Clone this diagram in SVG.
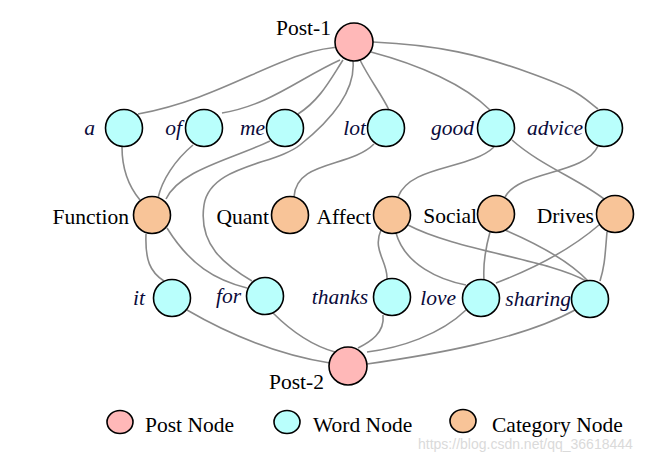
<svg xmlns="http://www.w3.org/2000/svg" width="666" height="454" viewBox="0 0 666 454">
<style>
.e{fill:none;stroke:#8a8a8a;stroke-width:1.6}
.n{stroke:#000;stroke-width:1.6}
.post{fill:#ffb8b8}
.word{fill:#b9fffc}
.cat{fill:#f8c498}
.lb{font-size:21.5px;fill:#000}
.it{font-style:italic;fill:#0a0a3a}
.wm{font-family:'Liberation Sans',Arial,sans-serif;font-size:14px;fill:#dadada}
</style>
<rect width="666" height="454" fill="#fff"/>
<g id="connectors">
<path class="e" d="M345,47 C285,47 230,97 138,114"/>
<path class="e" d="M340,60 C300,78 270,105 222,113"/>
<path class="e" d="M343,60 C330,80 320,100 298,114"/>
<path class="e" d="M353,61 C356,95 325,125 300,145 S210,165 204,205 S225,265 252,281"/>
<path class="e" d="M360,60 C370,80 382,95 389,110"/>
<path class="e" d="M371,52 C420,65 465,85 490,110"/>
<path class="e" d="M373,42 C440,45 480,55 530,73 S580,95 598,109"/>
<path class="e" d="M122,147 C122,170 130,188 140,200"/>
<path class="e" d="M193,145 C175,160 162,180 158,198"/>
<path class="e" d="M270,141 C230,160 180,170 166,199"/>
<path class="e" d="M374,144 C350,168 296,160 294,197"/>
<path class="e" d="M494,147 C470,170 410,165 398,197"/>
<path class="e" d="M512,140 C540,165 580,180 604,199"/>
<path class="e" d="M598,146 C585,175 520,170 505,197"/>
<path class="e" d="M146,234 C145,260 150,272 164,281"/>
<path class="e" d="M167,228 C190,265 215,280 247,288"/>
<path class="e" d="M381,230 C372,250 388,262 387,279"/>
<path class="e" d="M396,233 C405,265 440,280 466,285"/>
<path class="e" d="M408,225 C455,250 550,260 586,281"/>
<path class="e" d="M490,232 C485,250 483,265 484,280"/>
<path class="e" d="M505,230 C540,245 570,262 588,281"/>
<path class="e" d="M599,225 C570,250 530,270 496,283"/>
<path class="e" d="M607,232 C605,255 605,265 600,281"/>
<path class="e" d="M187,310 C230,335 280,355 330,363"/>
<path class="e" d="M273,313 C290,330 310,345 335,352"/>
<path class="e" d="M383,315 C385,333 370,342 358,348"/>
<path class="e" d="M466,310 C440,335 400,348 367,352"/>
<path class="e" d="M575,310 C520,340 430,355 367,364"/>
</g>
<g font-family="Liberation Serif, serif">
<g id="post1"><circle class="n post" cx="354" cy="42" r="19"/><text class="lb" x="331" y="35" text-anchor="end">Post-1</text></g>
<g id="w-a"><circle class="n word" cx="124" cy="128" r="18.5"/><text class="lb it" x="95" y="135" text-anchor="end">a</text></g>
<g id="w-of"><circle class="n word" cx="204" cy="128" r="18.5"/><text class="lb it" x="182" y="135" text-anchor="end">of</text></g>
<g id="w-me"><circle class="n word" cx="285" cy="128" r="18.5"/><text class="lb it" x="265" y="135" text-anchor="end">me</text></g>
<g id="w-lot"><circle class="n word" cx="386" cy="128" r="18.5"/><text class="lb it" x="366" y="135" text-anchor="end">lot</text></g>
<g id="w-good"><circle class="n word" cx="496" cy="128" r="18.5"/><text class="lb it" x="474" y="135" text-anchor="end">good</text></g>
<g id="w-advice"><circle class="n word" cx="604" cy="128" r="18.5"/><text class="lb it" x="583" y="135" text-anchor="end">advice</text></g>
<g id="c-function"><circle class="n cat" cx="152" cy="215" r="18.5"/><text class="lb" x="129" y="224" text-anchor="end">Function</text></g>
<g id="c-quant"><circle class="n cat" cx="290" cy="215" r="18.5"/><text class="lb" x="269" y="224" text-anchor="end">Quant</text></g>
<g id="c-affect"><circle class="n cat" cx="392" cy="215" r="18.5"/><text class="lb" x="371" y="224" text-anchor="end">Affect</text></g>
<g id="c-social"><circle class="n cat" cx="496" cy="214" r="18.5"/><text class="lb" x="477" y="223" text-anchor="end">Social</text></g>
<g id="c-drives"><circle class="n cat" cx="615" cy="214" r="18.5"/><text class="lb" x="594" y="223" text-anchor="end">Drives</text></g>
<g id="w-it"><circle class="n word" cx="172" cy="298" r="18.5"/><text class="lb it" x="145" y="305" text-anchor="end">it</text></g>
<g id="w-for"><circle class="n word" cx="265" cy="296" r="18.5"/><text class="lb it" x="241" y="303" text-anchor="end">for</text></g>
<g id="w-thanks"><circle class="n word" cx="392" cy="297" r="18.5"/><text class="lb it" x="368" y="304" text-anchor="end">thanks</text></g>
<g id="w-love"><circle class="n word" cx="481" cy="298" r="18.5"/><text class="lb it" x="456" y="305" text-anchor="end">love</text></g>
<g id="w-sharing"><circle class="n word" cx="590" cy="299" r="18.5"/><text class="lb it" x="571" y="306" text-anchor="end">sharing</text></g>
<g id="post2"><circle class="n post" cx="348" cy="366" r="19"/><text class="lb" x="324" y="389" text-anchor="end">Post-2</text></g>
<g id="legend">
<ellipse class="n post" cx="120" cy="422" rx="13" ry="11.5"/>
<text class="lb" x="145" y="432">Post Node</text>
<ellipse class="n word" cx="287" cy="422" rx="13" ry="11.5"/>
<text class="lb" x="313" y="432">Word Node</text>
<ellipse class="n cat" cx="463" cy="421" rx="13" ry="11.5"/>
<text class="lb" x="492" y="432">Category Node</text>
</g>
</g>
<text class="wm" x="418" y="449">https://blog.csdn.net/qq_36618444</text>
</svg>
